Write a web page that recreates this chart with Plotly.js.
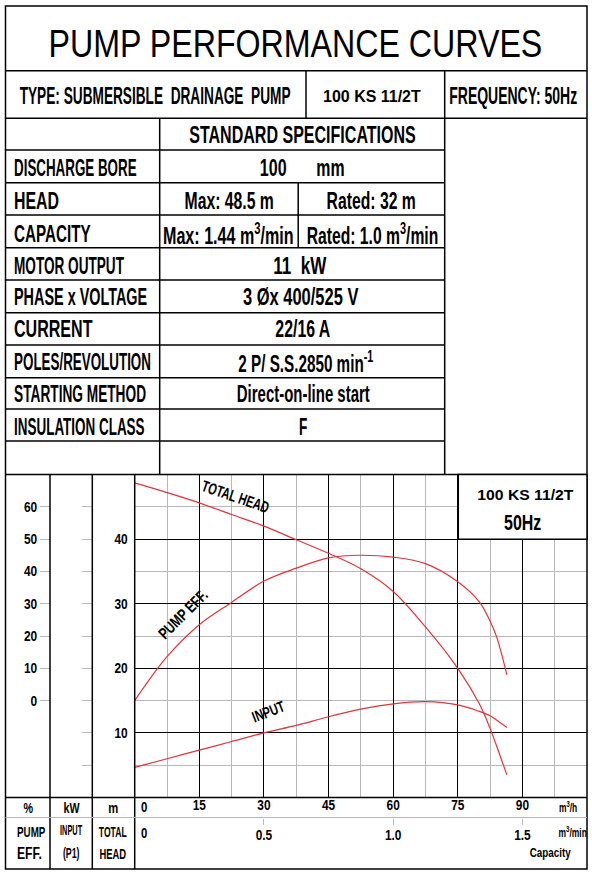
<!DOCTYPE html>
<html>
<head>
<meta charset="utf-8">
<script src="https://cdn.plot.ly/plotly-3.0.1.min.js"></script>
<style>
  html, body { margin: 0; padding: 0; background: #fff; }
  #chart { width: 592px; height: 872px; }
</style>
</head>
<body>
<div id="chart"></div>
<script>
// capacity in m3/h
const capacity = [0, 7.5, 15, 22.5, 30, 37.5, 45, 52.5, 60, 67.5, 75, 80, 82.5, 84, 86.4];
const totalHead = [48.7, 47.2, 45.6, 43.8, 42.0, 39.9, 37.8, 35.4, 31.9, 26.4, 20.0, 14.5, 10.7, 8.0, 3.5];   // m
const pumpEff = [0, 13.6, 23.5, 30.4, 37, 41, 44.2, 45, 44.4, 42.4, 36.8, 30.6, 24.6, 19.8, 8];              // %
const inputKw = [5.8, 6.6, 7.4, 8.2, 9.0, 9.7, 10.5, 11.2, 11.7, 11.9, 11.6, 11.0, 10.6, 10.2, 9.5];         // kW

const headTicks = [10, 20, 30, 40];
const effTicks = [0, 10, 20, 30, 40, 50, 60];
const kwTicks = [6, 9, 12];
const kwMarks = [6, 9, 12, 15, 18, 21, 24, 27, 30];
const flowTicks = [15, 30, 45, 60, 75, 90];
const flowMinTicks = [0.5, 1.0, 1.5];
const flowMinText = ['0.5', '1.0', '1.5'];

const specLabels = ['DISCHARGE BORE', 'HEAD', 'CAPACITY', 'MOTOR OUTPUT', 'PHASE x VOLTAGE',
    'CURRENT', 'POLES/REVOLUTION', 'STARTING METHOD', 'INSULATION CLASS'];
const specValues = [null, null, null, '11&nbsp;&nbsp;kW', '3 Øx 400/525 V', '22/16 A',
    '2 P/ S.S.2850 min<sup>-1</sup>', 'Direct-on-line start', 'F'];

const W = 592, H = 872;
const FONT = '"Liberation Sans", Arial, sans-serif';
const RED = '#e2333b';
const GREY = '#b8b8b8';

const px = x => x / W;
const py = y => 1 - y / H;

// plot box in pixels
const L = 134.7, R = 587, T = 474.5, B = 797.5;
const xMax = 105;

// the reference uses a narrow face; Liberation Sans is squeezed to the widths seen there
const fits = new Map();
const note = (text, x, y, size, o = {}) => {
    const a = {
        text, x: px(x), y: py(y), xref: 'paper', yref: 'paper',
        showarrow: false, xanchor: o.anchor || 'center', yanchor: 'middle',
        textangle: o.angle || 0,
        font: { family: FONT, size, color: '#000', weight: o.weight || 'bold' },
    };
    if (o.w) fits.set(a, o.w);
    return a;
};

const line = (x0, y0, x1, y1, color = '#000', width = 1.5) => ({
    type: 'line', xref: 'paper', yref: 'paper',
    x0: px(x0), y0: py(y0), x1: px(x1), y1: py(y1),
    line: { color, width },
});

const shapes = [
    { type: 'rect', xref: 'paper', yref: 'paper', x0: px(5.5), y0: py(6), x1: px(R), y1: py(869),
      line: { color: '#000', width: 1.5 } },
    line(5.5, 70.7, R, 70.7),
    line(5.5, 118.3, R, 118.3),
    line(306, 70.7, 306, 118.3),
    line(444.7, 70.7, 444.7, T),
    line(159.7, 118.3, 159.7, T),
    line(298.2, 182.7, 298.2, 247.7),
    line(5.5, T, R, T),
    line(50, T, 50, 869),
    line(92.3, T, 92.3, 869),
    line(L, T, L, 869),
    line(5.5, B, R, B),
    line(5.5, 817.5, R, 817.5, GREY, 1.2),
    { type: 'rect', xref: 'paper', yref: 'paper', layer: 'above',
      x0: px(458.3), y0: py(539.3), x1: px(R), y1: py(T),
      fillcolor: '#fff', line: { color: '#000', width: 1.5 } },
];
const rowLines = [150, 182.7, 215, 247.7, 280, 312.7, 345, 377.7, 409, 441];
rowLines.forEach(y => shapes.push(line(5.5, y, 444.7, y)));

const TS = 23; // table text size
const annotations = [
    note('PUMP PERFORMANCE CURVES', 295.4, 43.3, 39, { weight: 'normal', w: 494 }),
    note('TYPE: SUBMERSIBLE&nbsp; DRAINAGE&nbsp; PUMP', 155, 95.7, TS, { w: 271 }),
    note('100 KS 11/2T', 372, 96.7, 16, { w: 98 }),
    note('FREQUENCY: 50Hz', 513.4, 95.7, TS, { w: 128 }),
    note('STANDARD SPECIFICATIONS', 302.7, 135.2, TS, { w: 226.7 }),
    note('100', 272.7, 168.2, TS, { w: 26.7 }),
    note('mm', 330.8, 168.2, TS, { w: 28.3 }),
    note('Max: 48.5 m', 228.7, 200.8, TS, { w: 89.3 }),
    note('Rated: 32 m', 371.3, 200.8, TS, { w: 89.3 }),
    note('Max: 1.44 m<sup>3</sup>/min', 228, 233.8, TS, { w: 130.7 }),
    note('Rated: 1.0 m<sup>3</sup>/min', 372.5, 233.8, TS, { w: 131.7 }),
    // chart frame texts
    note('100 KS 11/2T', 525, 495, 15.5, { w: 96.7 }),
    note('50Hz', 522, 522, 22, { w: 37.3 }),
    note('TOTAL HEAD', 235, 496, 16, { angle: 19, w: 70 }),
    note('PUMP EFF.', 182.5, 614, 16, { angle: -45, w: 62 }),
    note('INPUT', 268.5, 711.5, 15.5, { angle: -21, w: 34 }),
    note('0', 139, 806.7, 14, { anchor: 'left', w: 6.5 }),
    note('0', 139, 833.3, 14, { anchor: 'left', w: 6.5 }),
    note('m<sup>3</sup>/h', 567.5, 806.5, 13, { w: 18.3 }),
    note('m<sup>3</sup>/min', 572.5, 831.5, 13, { w: 28.3 }),
    note('Capacity', 550.8, 852, 13, { w: 41.7 }),
    note('%', 28.3, 808.3, 14, { w: 10 }),
    note('kW', 71.7, 808, 14, { w: 16.7 }),
    note('m', 113.3, 808, 14, { w: 10 }),
    note('PUMP', 30.7, 831.7, 14, { w: 28.3 }),
    note('EFF.', 29, 853.3, 16, { w: 25 }),
    note('INPUT', 71, 830, 14, { w: 22.3 }),
    note('(P1)', 71, 853, 14, { w: 16.7 }),
    note('TOTAL', 113.3, 832, 14, { w: 28.3 }),
    note('HEAD', 113.3, 853.5, 14, { w: 26.7 }),
];
const rowMid = [168.2, 200.8, 233.8, 265.8, 296.5, 328.6, 361.5, 393.9, 426.6];
const labelW = [122.6, 45, 76.7, 110, 133.2, 78.5, 137, 132.1, 130.6];
const valueW = [null, null, null, 53.3, 116, 55, 135, 133.3, 8.3];
const valueX = [null, null, null, 300, 301.3, 302.5, 305.8, 303.3, 302.5];
specLabels.forEach((label, i) => {
    annotations.push(note(label, 11.7, rowMid[i], TS, { anchor: 'left', w: labelW[i] }));
    if (specValues[i]) annotations.push(note(specValues[i], valueX[i], rowMid[i], TS, { w: valueW[i] }));
});

const tickFont = { family: FONT, size: 14, color: '#000', weight: 'bold' };
const yDomain = [1 - B / H, 1 - T / H];
const curve = { color: RED, width: 1.2, shape: 'spline', smoothing: 1 };

const traces = [
    { x: capacity, y: totalHead, type: 'scatter', mode: 'lines', name: 'TOTAL HEAD',
      line: curve, xaxis: 'x', yaxis: 'y' },
    { x: capacity, y: pumpEff, type: 'scatter', mode: 'lines', name: 'PUMP EFF.',
      line: curve, xaxis: 'x', yaxis: 'y2' },
    { x: capacity, y: inputKw, type: 'scatter', mode: 'lines', name: 'INPUT',
      line: curve, xaxis: 'x', yaxis: 'y3' },
    // empty trace so the m3/min scale gets its own subplot
    { x: [], y: [], type: 'scatter', mode: 'lines', xaxis: 'x2', yaxis: 'y', hoverinfo: 'skip' },
];

const layout = {
    width: W, height: H,
    margin: { l: 0, r: 0, t: 0, b: 0 },
    paper_bgcolor: '#fff', plot_bgcolor: '#fff',
    showlegend: false,
    xaxis: {
        domain: [L / W, R / W], range: [0, xMax], anchor: 'y',
        tickvals: flowTicks, ticks: '', ticklabelstandoff: -2,
        showgrid: true, gridcolor: '#000', gridwidth: 1, zeroline: false, showline: false,
        minor: { tick0: 0, dtick: 7.5, showgrid: true, gridcolor: GREY, gridwidth: 1 },
        tickfont: tickFont, fixedrange: true,
    },
    xaxis2: {
        overlaying: 'x', anchor: 'free', position: 1 - 817.5 / H, side: 'bottom',
        range: [0, xMax / 60], tickvals: flowMinTicks, ticktext: flowMinText,
        ticks: 'outside', ticklen: 6, tickcolor: GREY, tickwidth: 1, ticklabelstandoff: -1,
        showgrid: false, zeroline: false, showline: false, tickfont: tickFont,
    },
    yaxis: {
        domain: yDomain, range: [0, 50], anchor: 'x',
        tickvals: headTicks, ticks: '', ticklabelstandoff: 6,
        showgrid: true, gridcolor: '#000', gridwidth: 1, zeroline: false, showline: false,
        minor: { tick0: 0, dtick: 5, showgrid: true, gridcolor: GREY, gridwidth: 1 },
        tickfont: tickFont, fixedrange: true,
    },
    // pump efficiency scale, % column
    yaxis2: {
        overlaying: 'y', anchor: 'free', position: 50 / W, side: 'left',
        range: [-30, 70], tickvals: effTicks,
        ticks: 'outside', ticklen: 10, tickcolor: GREY, tickwidth: 1,
        showgrid: false, zeroline: false, showline: false, tickfont: tickFont,
    },
    // input power scale, kW column (tick marks)
    yaxis3: {
        overlaying: 'y', anchor: 'free', position: 92.3 / W, side: 'left',
        range: [3, 33], tickvals: kwMarks, showticklabels: false,
        ticks: 'outside', ticklen: 10, tickcolor: GREY, tickwidth: 1,
        showgrid: false, zeroline: false, showline: false,
    },
    // input power labels, left aligned in the kW column
    yaxis4: {
        overlaying: 'y', anchor: 'free', position: 50 / W, side: 'right',
        range: [3, 33], tickvals: kwTicks, ticks: '', ticklabelstandoff: 5,
        showgrid: false, zeroline: false, showline: false, tickfont: tickFont,
    },
    shapes, annotations,
};

const squeeze = (el, s, pivot) => {
    const prev = el.getAttribute('transform') || '';
    el.setAttribute('transform', `${prev} translate(${pivot} 0) scale(${s} 1) translate(${-pivot} 0)`);
};

Plotly.newPlot('chart', traces, layout, { staticPlot: true, displayModeBar: false }).then(gd => {
    gd.querySelectorAll('g.annotation').forEach(g => {
        const a = annotations[+g.getAttribute('data-index')];
        const w = a && fits.get(a);
        const t = g.querySelector('text.annotation-text');
        if (!w || !t) return;
        const bb = t.getBBox();
        if (!bb.width) return;
        squeeze(t, w / bb.width, a.xanchor === 'left' ? bb.x : bb.x + bb.width / 2);
    });
    gd.querySelectorAll('g.xtick text, g.x2tick text, g.ytick text, g.y2tick text, g.y4tick text').forEach(t => {
        const bb = t.getBBox();
        const anchor = t.getAttribute('text-anchor');
        const pivot = anchor === 'start' ? bb.x : anchor === 'end' ? bb.x + bb.width : bb.x + bb.width / 2;
        squeeze(t, 0.85, pivot);
    });
});
</script>
</body>
</html>
